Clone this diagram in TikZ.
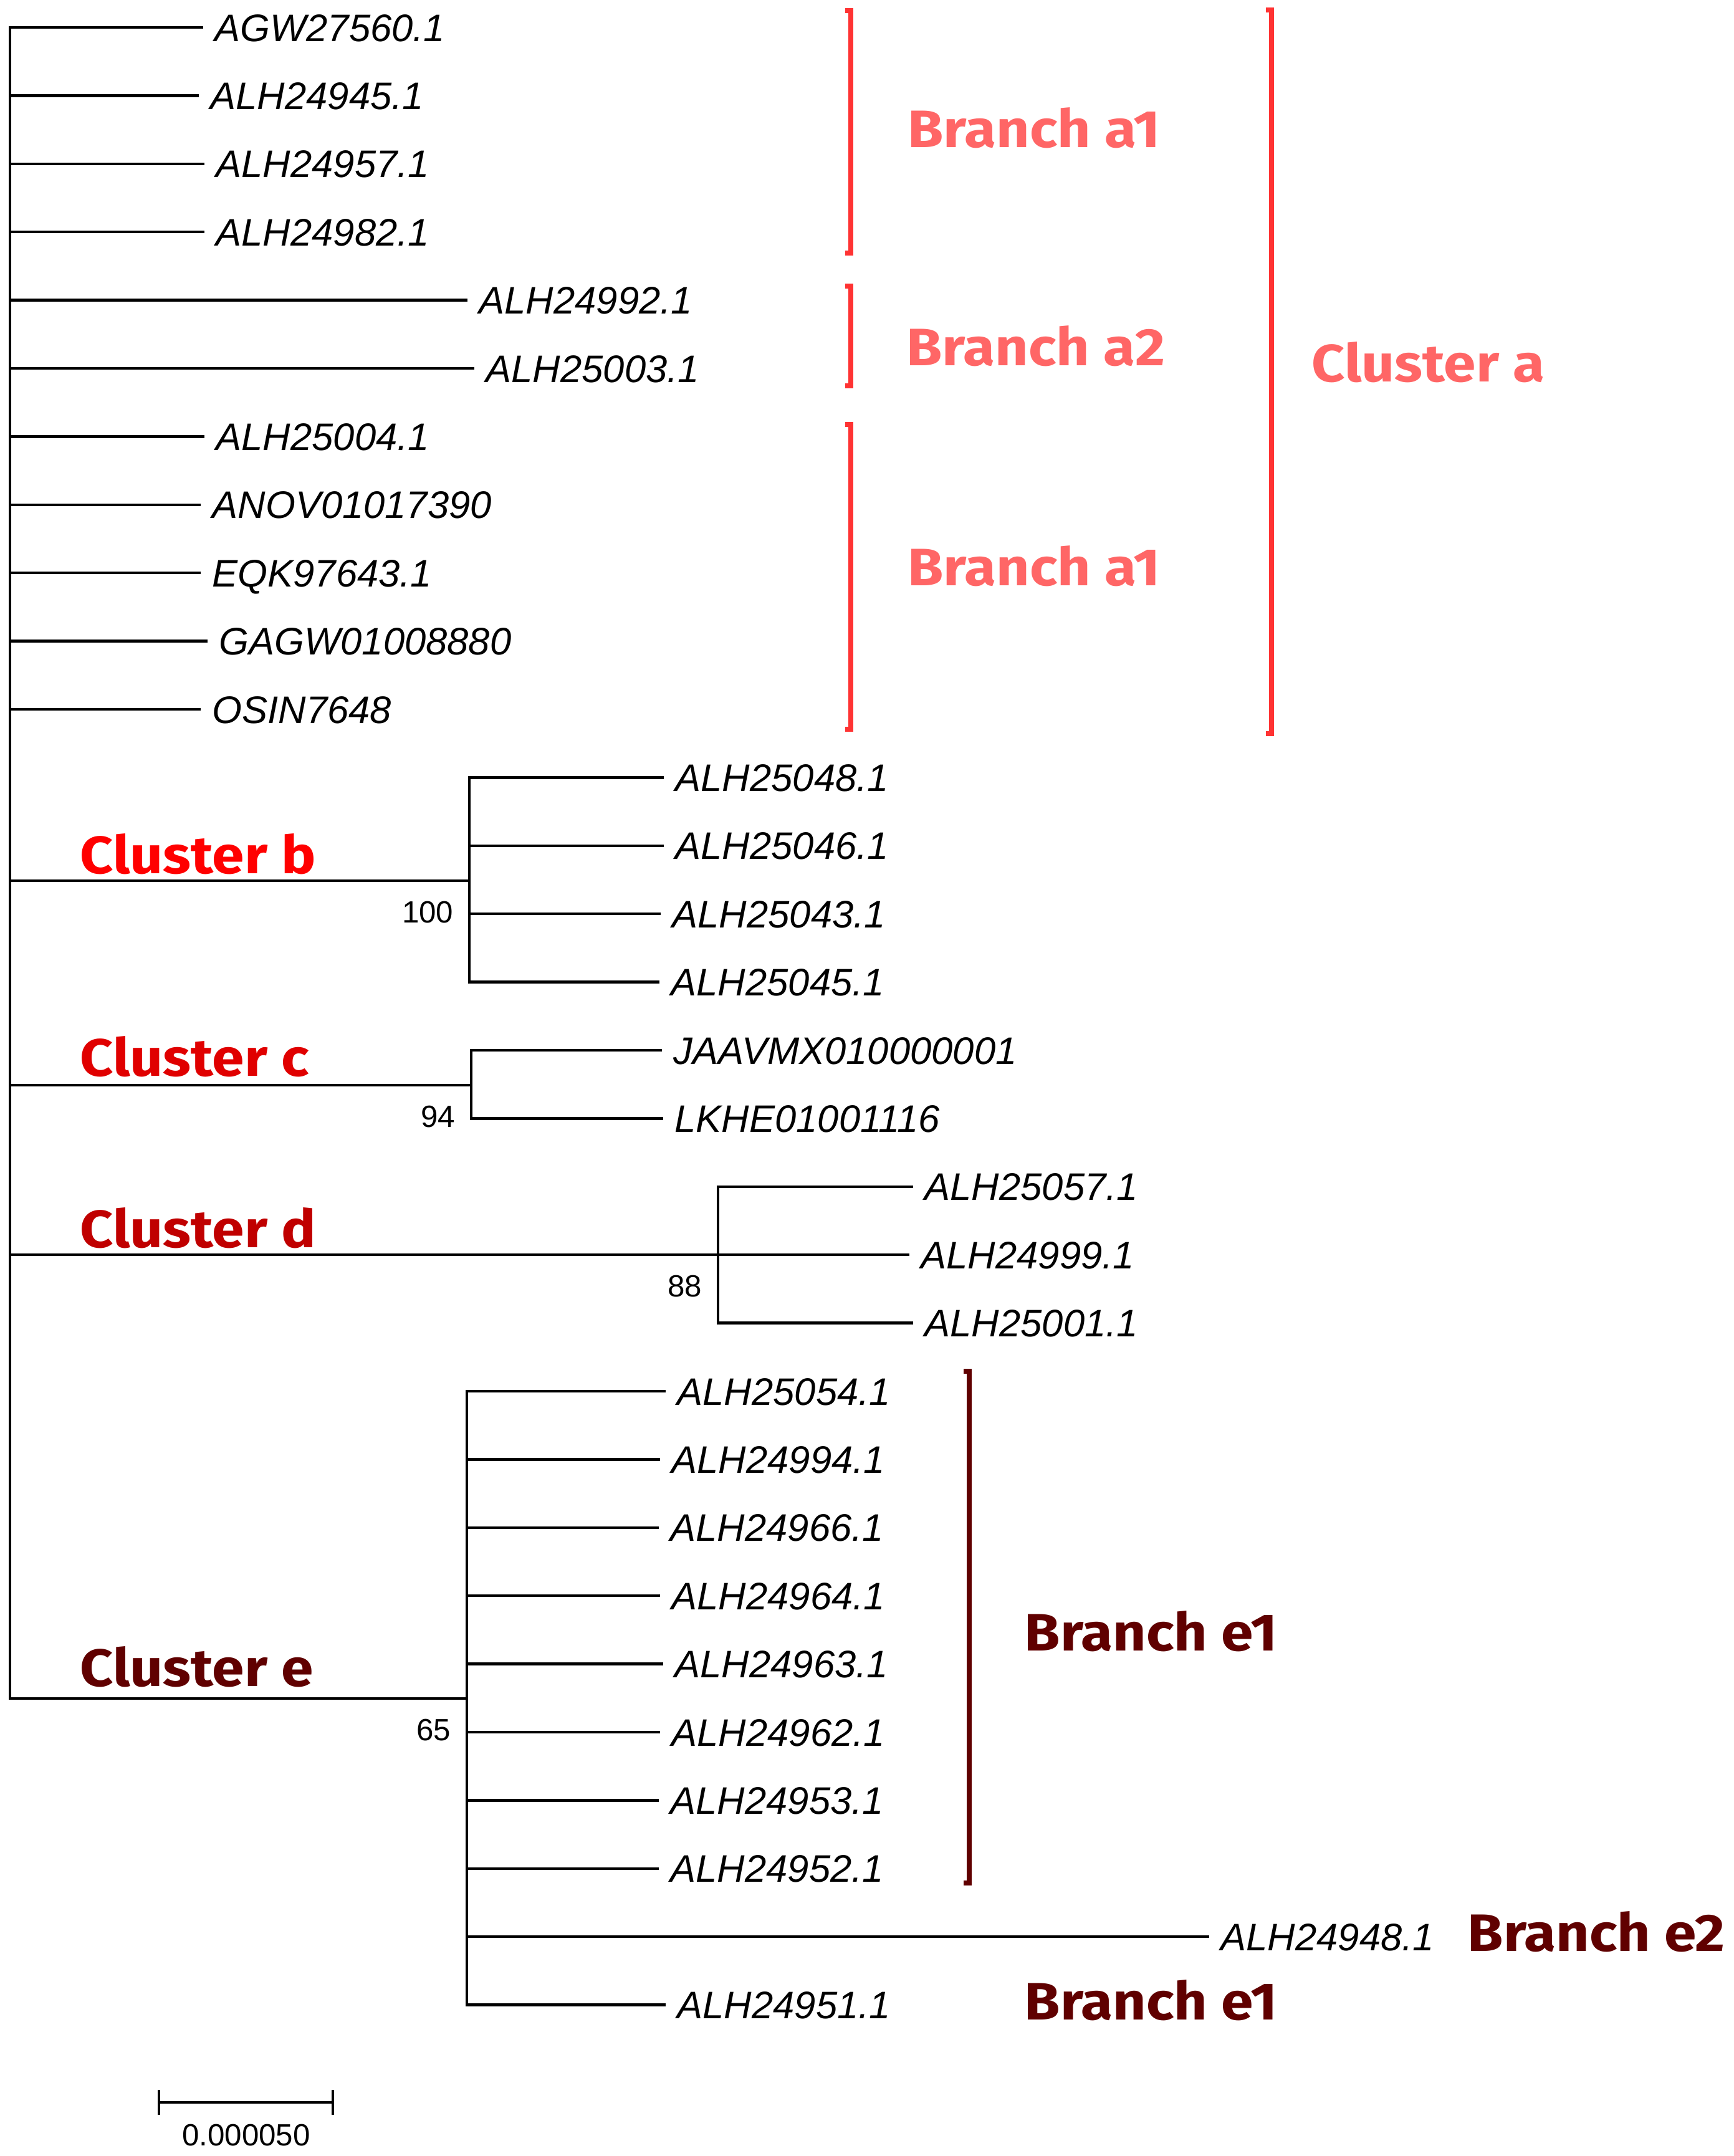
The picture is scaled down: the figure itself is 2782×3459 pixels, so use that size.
\documentclass[tikz,border=0pt]{standalone}
\usepackage{fontspec}
\setmainfont{Liberation Sans}
\newfontfamily\tagfont{Fira Sans}[FakeStretch=1.1]
\usepackage{xcolor}
\usepackage{tikz}
\usetikzlibrary{positioning}

\definecolor{alight}{HTML}{FF6666}
\definecolor{abrace}{HTML}{FF3333}
\definecolor{bred}{HTML}{FF0000}
\definecolor{cred}{HTML}{E00000}
\definecolor{dred}{HTML}{C00000}
\definecolor{emaroon}{HTML}{600000}

\begin{document}
\begin{tikzpicture}[x=0.01cm, y=-0.01cm,
    branch/.style={line width=0.045cm, line cap=rect},
    leaf/.style={anchor=west, inner xsep=0.2cm, inner ysep=0pt,
        text height=0.44cm, text depth=0pt,
        font=\fontsize{17.5}{20}\selectfont\itshape},
    boot/.style={inner sep=0pt, font=\fontsize{14}{16}\selectfont},
    tag/.style={anchor=base west, inner sep=0pt,
        font=\tagfont\bfseries\fontsize{24}{28}\selectfont},
    brace/.style={line width=0.08cm}]

    \useasboundingbox (0,0) rectangle (2782,3459);

    % Internal nodes
    \coordinate (root) at (16,44);
    \coordinate (nb) at (753,1413);
    \coordinate (nc) at (756,1741);
    \coordinate (nd) at (1152,2013);
    \coordinate (ne) at (749,2725);

    % Leaves
    \foreach \i/\xe/\lab in {0/324/AGW27560.1, 1/317/ALH24945.1, 2/326/ALH24957.1,
        3/326/ALH24982.1, 4/748/ALH24992.1, 5/759/ALH25003.1, 6/326/ALH25004.1,
        7/320/ANOV01017390, 8/320/EQK97643.1, 9/331/GAGW01008880, 10/320/OSIN7648,
        11/1063/ALH25048.1, 12/1063/ALH25046.1, 13/1058/ALH25043.1, 14/1056/ALH25045.1,
        15/1060/JAAVMX010000001, 16/1062/LKHE01001116,
        17/1463/ALH25057.1, 18/1457/ALH24999.1, 19/1463/ALH25001.1,
        20/1066/ALH25054.1, 21/1057/ALH24994.1, 22/1055/ALH24966.1, 23/1057/ALH24964.1,
        24/1062/ALH24963.1, 25/1057/ALH24962.1, 26/1055/ALH24953.1, 27/1055/ALH24952.1,
        28/1938/ALH24948.1, 29/1066/ALH24951.1}
        \node (l\i) [leaf] at (\xe,{44+109.4*\i}) {\lab};

    % Tree
    \draw[branch] (root) -- (root |- ne);
    \foreach \i in {0,...,10} \draw[branch] (root |- l\i.west) -- (l\i.west);
    \foreach \n in {nb,nc,nd,ne} \draw[branch] (root |- \n) -- (\n);
    \foreach \i in {11,...,14} \draw[branch] (nb |- l\i.west) -- (l\i.west);
    \foreach \i in {15,16} \draw[branch] (nc |- l\i.west) -- (l\i.west);
    \foreach \i in {17,18,19} \draw[branch] (nd |- l\i.west) -- (l\i.west);
    \foreach \i in {20,...,29} \draw[branch] (ne |- l\i.west) -- (l\i.west);
    \draw[branch] (nb |- l11.west) -- (nb |- l14.west);
    \draw[branch] (nc |- l15.west) -- (nc |- l16.west);
    \draw[branch] (nd |- l17.west) -- (nd |- l19.west);
    \draw[branch] (ne |- l20.west) -- (ne |- l29.west);

    % Bootstrap values
    \node (bsb) [boot, below left=0.32cm and 0.25cm of nb] {100};
    \node (bsc) [boot, below left=0.32cm and 0.25cm of nc] {94};
    \node (bsd) [boot, below left=0.32cm and 0.25cm of nd] {88};
    \node (bse) [boot, below left=0.32cm and 0.25cm of ne] {65};

    % Brackets
    \foreach \xb/\top/\bot/\col in {1365/17/406/abrace, 1365/459/619/abrace,
        1365/681/1170/abrace, 2040/16/1177/abrace, 1555/2200/3021/emaroon}
        \draw[brace, \col] (\xb-9,\top) -- (\xb,\top) -- (\xb,\bot) -- (\xb-9,\bot);

    % Cluster and branch names
    \node (ba1) [tag, alight] at (1456,236) {Branch a1};
    \node (ba2) [tag, alight] at (1454,586) {Branch a2};
    \node (ba3) [tag, alight] at (1456,939) {Branch a1};
    \node (ca) [tag, alight] at (2104,612) {Cluster a};
    \node (cb) [tag, bred] at (128,1401) {Cluster b};
    \node (cc) [tag, cred] at (128,1726) {Cluster c};
    \node (cd) [tag, dred] at (128,2001) {Cluster d};
    \node (ce) [tag, emaroon] at (128,2705) {Cluster e};
    \node (be1) [tag, emaroon] at (1643,2648) {Branch e1};
    \node (be2) [tag, emaroon] at (2354,3130) {Branch e2};
    \node (be3) [tag, emaroon] at (1643,3240) {Branch e1};

    % Scale bar
    \coordinate (sl) at (255,3373);
    \coordinate (sr) at (534,3373);
    \coordinate (sm) at (395,3373);
    \draw[branch, line cap=butt] (sl) -- (sr);
    \draw[branch, line cap=butt] ([yshift=0.2cm]sl) -- ([yshift=-0.2cm]sl);
    \draw[branch, line cap=butt] ([yshift=0.2cm]sr) -- ([yshift=-0.2cm]sr);
    \node (sbar) [boot, below=0.34cm of sm] {0.000050};

\end{tikzpicture}
\end{document}
